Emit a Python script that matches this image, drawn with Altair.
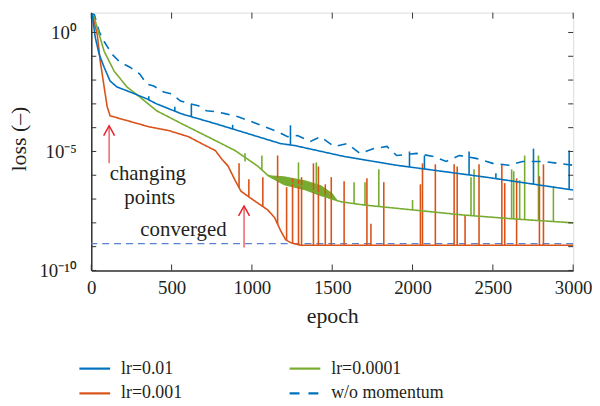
import altair as alt
import pandas as pd

# ---------------- data (loss stored as log10 exponent) ----------------
lr01_epoch = [0, 6, 25, 49, 80, 117, 160, 241, 346, 407, 562, 772, 975, 1179, 1265, 1574, 1901, 2457, 3000]
lr01_exp = [0.8, 0.75, -0.21, -0.92, -1.46, -2.04, -2.29, -2.5, -2.79, -3.0, -3.42, -3.83, -4.25, -4.67, -4.75, -5.21, -5.58, -6.08, -6.62]

lr001_epoch = [0, 6, 37, 56, 80, 99, 117, 179, 358, 481, 605, 710, 772, 809, 852, 895, 932, 975, 1037, 1099, 1142, 1179, 1210, 1241, 1300, 3000]
lr001_exp = [0.8, 0.75, -0.08, -1.21, -2.29, -3.12, -3.5, -3.62, -3.96, -4.12, -4.38, -4.75, -4.96, -5.29, -5.62, -6.21, -6.67, -6.88, -7.17, -7.46, -7.79, -8.33, -8.71, -8.83, -8.94, -8.94]

lr0001_epoch = [0, 19, 49, 80, 142, 222, 302, 407, 562, 772, 895, 1037, 1099, 1179, 1284, 1400, 1488, 1560, 1698, 2006, 2315, 2623, 3000]
lr0001_exp = [0.8, 0.62, -0.08, -0.79, -1.62, -2.29, -2.71, -3.29, -3.83, -4.54, -4.96, -5.62, -6.0, -6.21, -6.4, -6.7, -6.98, -7.12, -7.25, -7.46, -7.67, -7.83, -8.0]

nomom_epoch = [0, 19, 49, 80, 130, 179, 241, 302, 346, 389, 451, 500, 556, 617, 667, 716, 778, 840, 914, 1000,
               1080, 1161, 1222, 1284, 1364, 1426, 1512, 1593, 1673, 1759, 1840, 1901, 2025, 2130, 2210, 2290,
               2395, 2500, 2599, 2685, 2809, 2908, 3000]
nomom_exp = [0.8, 0.75, 0.04, -0.38, -0.92, -1.25, -1.46, -1.75, -2.17, -2.25, -2.5, -2.58, -2.88, -3.0, -3.08, -3.29,
             -3.33, -3.42, -3.54, -3.75, -3.96, -4.17, -4.38, -4.33, -4.58, -4.38, -4.79, -4.67, -5.08, -4.88, -4.79,
             -5.17, -5.08, -5.21, -5.42, -5.17, -5.29, -5.5, -5.58, -5.42, -5.42, -5.5, -5.58]

# spikes: epoch, base exponent, top exponent
lr01_spk_epoch = [358, 520, 623, 880, 1240, 1981, 2074, 2352, 2519, 2753, 2975]
lr01_spk_base = [-2.83, -3.3, -3.53, -4.06, -4.72, -5.65, -5.74, -5.99, -6.14, -6.37, -6.6]
lr01_spk_top = [-2.68, -3.12, -3.0, -3.88, -3.9, -5.0, -5.17, -5.0, -5.92, -4.88, -4.96]

lr001_spk_epoch = [920, 981, 1068, 1160, 1216, 1253, 1290, 1309, 1383, 1414, 1457, 1494, 1574, 1716, 1741, 1821,
                   2049, 2062, 2142, 2259, 2278, 2327, 2414, 2556, 2574, 2648, 2790, 2815]
lr001_spk_base = [-6.52, -6.9, -7.31, -8.05, -8.73, -8.86] + [-8.94] * 22
lr001_spk_top = [-5.5, -6.17, -6.08, -5.17, -6.5, -6.13, -6.2, -6.08, -5.5, -5.63, -6.38, -6.08, -6.25, -6.13, -8.04,
                 -6.29, -6.38, -5.5, -5.54, -5.54, -5.63, -7.67, -5.54, -5.54, -6.33, -6.13, -6.04, -5.54]

lr0001_spk_epoch = [957, 1062, 1290, 1401, 1636, 1704, 1790, 2000, 2364, 2383, 2617, 2630, 2667, 2698, 2784, 2877]
lr0001_spk_base = [-5.42, -5.77, -6.43, -6.7, -7.19, -7.25, -7.31, -7.46, -7.7, -7.71, -7.83, -7.83, -7.85, -7.86, -7.9, -7.95]
lr0001_spk_top = [-5.08, -5.17, -5.46, -5.46, -6.29, -6.29, -5.75, -7.04, -6.08, -5.75, -5.75, -5.83, -6.21, -5.17, -5.17, -6.46]

# noisy band of lr=0.0001
band_epoch = [1100, 1200, 1330, 1430, 1500, 1530]
band_lo = [-6.05, -6.42, -6.63, -6.88, -7.0, -7.06]
band_hi = [-6.0, -6.04, -6.21, -6.42, -6.75, -7.02]

converged_exp = -8.875

series_names = ["lr=0.01", "lr=0.001", "lr=0.0001", "w/o momentum"]
series_colors = ["#0072BD", "#D95319", "#77AC30", "#0072BD"]

# annotations
arrow_epoch = [111, 951]
arrow_tail = [-5.5, -9.04]
arrow_tip = [-3.92, -7.29]
note_text = ["changing", "points", "converged"]
note_epoch = [352, 364, 574]
note_exp = [-6.21, -7.2, -8.54]

x_tick_values = [0, 500, 1000, 1500, 2000, 2500, 3000]
y_label_values = [1e-10, 1e-5, 1.0]
y_decades = [10.0 ** k for k in range(-10, 1)]

# ---------------- tables ----------------
def tbl(name, ep, ex):
    return pd.DataFrame({"series": name, "epoch": ep, "loss": [10.0 ** v for v in ex]})

lines = pd.concat([
    tbl("w/o momentum", nomom_epoch, nomom_exp),
    tbl("lr=0.0001", lr0001_epoch, lr0001_exp),
    tbl("lr=0.001", lr001_epoch, lr001_exp),
    tbl("lr=0.01", lr01_epoch, lr01_exp),
])
lines["order"] = range(len(lines))

def spk(color, ep, b, t):
    return pd.DataFrame({"color": color, "epoch": ep, "loss": [10.0 ** v for v in b],
                         "loss2": [10.0 ** v for v in t]})

spikes = pd.concat([
    spk(series_colors[2], lr0001_spk_epoch, lr0001_spk_base, lr0001_spk_top),
    spk(series_colors[1], lr001_spk_epoch, lr001_spk_base, lr001_spk_top),
    spk(series_colors[0], lr01_spk_epoch, lr01_spk_base, lr01_spk_top),
])
band = pd.DataFrame({"epoch": band_epoch, "loss": [10.0 ** v for v in band_lo],
                     "loss2": [10.0 ** v for v in band_hi]})
arrows = pd.DataFrame({"epoch": arrow_epoch, "loss": [10.0 ** v for v in arrow_tail],
                       "loss2": [10.0 ** v for v in arrow_tip]})
notes = pd.DataFrame({"epoch": note_epoch, "loss": [10.0 ** v for v in note_exp], "text": note_text})

FONT = "Liberation Serif, serif"
TXT = "#231f20"
W, H = 486, 260

xscale = alt.Scale(domain=[0, 3000], nice=False, zero=False)
yscale = alt.Scale(type="log", domain=[1e-10, 10 ** 0.833], nice=False)
xaxis = alt.Axis(values=x_tick_values, format="d", ticks=False, grid=False, labelFontSize=19, labelPadding=8,
                 labelFont=FONT, labelColor=TXT, title="epoch", titleFont=FONT, titleFontSize=22,
                 titleFontWeight="normal", titleColor=TXT, titleBaseline="middle", titleY=46,
                 domainColor="#333", domainWidth=1.5, labelFlush=False)
yaxis = alt.Axis(values=y_label_values, ticks=False, grid=False, labelFontSize=19, labelPadding=15,
                 labelFont=FONT, labelColor=TXT,
                 labelExpr="datum.value > 0.5 ? '10⁰' : (datum.value > 1e-7 ? '10⁻⁵' : '10⁻¹⁰')",
                 title="loss (–)", titleFont=FONT, titleFontSize=22, titleFontWeight="normal",
                 titleColor=TXT, titleBaseline="middle", titleX=-73, titleY=127,
                 domainColor="#333", domainWidth=1.5, minExtent=84, maxExtent=84)

X = alt.X("epoch:Q", scale=xscale, axis=xaxis)
Y = alt.Y("loss:Q", scale=yscale, axis=yaxis)

color_scale = alt.Scale(domain=series_names, range=series_colors)
dash_scale = alt.Scale(domain=series_names, range=[[1, 0], [1, 0], [1, 0], [9, 7]])

converged = alt.Chart(pd.DataFrame({"loss": [10.0 ** converged_exp]})).mark_rule(
    color="#5a82d2", strokeWidth=1.3, strokeDash=[7, 5]).encode(y=Y)

band_layer = alt.Chart(band).mark_area(color=series_colors[2], opacity=1).encode(
    x=X, y=Y, y2=alt.Y2("loss2:Q"))

spike_layer = alt.Chart(spikes).mark_rule(strokeWidth=1.6).encode(
    x=X, y=Y, y2=alt.Y2("loss2:Q"), color=alt.Color("color:N", scale=None))

line_layer = alt.Chart(lines).mark_line(strokeWidth=1.6).encode(
    x=X, y=Y,
    color=alt.Color("series:N", scale=color_scale, legend=None),
    strokeDash=alt.StrokeDash("series:N", scale=dash_scale, legend=None),
    strokeWidth=alt.StrokeWidth("series:N", scale=alt.Scale(domain=series_names, range=[1.6, 1.6, 1.8, 2.2]), legend=None),
    detail="series:N", order="order:Q")

arrow_shaft = alt.Chart(arrows).mark_rule(color="#ee4a55", strokeWidth=1.3).encode(
    x=X, y=Y, y2=alt.Y2("loss2:Q"))
arrow_head = alt.Chart(arrows).mark_point(shape="M-0.55,1 L0,0 L0.55,1", size=400, filled=False,
                                          color="#e8202c", strokeWidth=1.5, opacity=1).encode(
    x=X, y=alt.Y("loss2:Q", scale=yscale, axis=yaxis))

note_layer = alt.Chart(notes).mark_text(font=FONT, fontSize=21, color=TXT, align="center",
                                        baseline="alphabetic").encode(x=X, y=Y, text="text:N")

xt = pd.DataFrame({"epoch": x_tick_values})
yt = pd.DataFrame({"loss": y_decades})
tick_style = dict(color="#333", strokeWidth=1)
ticks = [
    alt.Chart(xt).mark_rule(**tick_style).encode(x=X, y=alt.value(H), y2=alt.value(H - 6)),
    alt.Chart(xt).mark_rule(**tick_style).encode(x=X, y=alt.value(0), y2=alt.value(6)),
    alt.Chart(yt).mark_rule(**tick_style).encode(y=Y, x=alt.value(0), x2=alt.value(5)),
    alt.Chart(yt).mark_rule(**tick_style).encode(y=Y, x=alt.value(W - 5), x2=alt.value(W)),
]

# manual legend (two columns, column-major order)
legend_layers = []
leg_pos = [(-12, 359), (-12, 384), (200, 359), (200, 384)]
leg_names = ["lr=0.01", "lr=0.001", "lr=0.0001", "w/o momentum"]
leg_colors = ["#0072BD", "#D95319", "#77AC30", "#0072BD"]
leg_dash = [None, None, None, [10, 9]]
for (lx, ly), nm, col, dsh in zip(leg_pos, leg_names, leg_colors, leg_dash):
    d = pd.DataFrame({"label": [nm]})
    kw = dict(color=col, strokeWidth=2.2)
    if dsh:
        kw["strokeDash"] = dsh
    legend_layers.append(alt.Chart(d).mark_rule(**kw).encode(
        x=alt.value(lx), x2=alt.value(lx + 31), y=alt.value(ly)))
    legend_layers.append(alt.Chart(d).mark_text(font=FONT, fontSize=18, color=TXT, align="left",
                                                baseline="middle").encode(
        x=alt.value(lx + 42), y=alt.value(ly), text="label:N"))

chart = alt.layer(
    converged, band_layer, spike_layer, line_layer, arrow_shaft, arrow_head, note_layer,
    *ticks, *legend_layers
).properties(
    width=W, height=H, padding={"left": 0, "top": 0, "right": 0, "bottom": 0}
).configure_view(stroke="#777", strokeWidth=1).configure(background="white")

chart.save("out.html", embed_options={"renderer": "svg", "actions": False})
